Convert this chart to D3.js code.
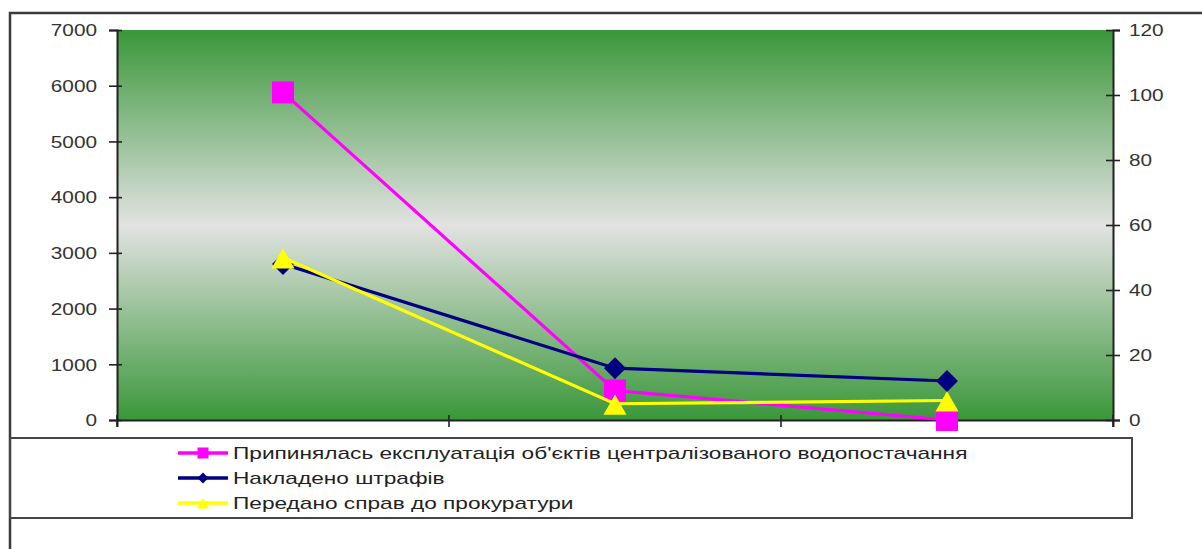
<!DOCTYPE html>
<html><head><meta charset="utf-8">
<script src="https://cdn.jsdelivr.net/npm/d3@7"></script>
<style>
body{margin:0;background:#fff}
text{font-family:"Liberation Sans",Arial,sans-serif}
</style>
</head><body>
<svg id="c" width="1202" height="549"></svg>
<script>
// ---- data ----
const categories = ["A", "B", "C"];
const seriesNames = [
  "Припинялась експлуатація об'єктів централізованого водопостачання",
  "Накладено штрафів",
  "Передано справ до прокуратури"
];
const stoppedValues = [5880, 530, 0];   // left axis
const finesValues = [2800, 930, 700];   // left axis
const referredValues = [50, 5, 6];      // right axis
const leftTicks = [0, 1000, 2000, 3000, 4000, 5000, 6000, 7000];
const rightTicks = [0, 20, 40, 60, 80, 100, 120];

// ---- layout ----
const svg = d3.select("#c");
const L = 117, R = 1113, T = 30, B = 420;
const SX = 1.3; // horizontal stretch of text

const x = d3.scaleBand().domain(categories).range([L, R]);
const yL = d3.scaleLinear().domain([0, 7000]).range([B, T]);
const yR = d3.scaleLinear().domain([0, 120]).range([B, T]);

// outer frame
svg.append("path").attr("d", `M10,549 L10,13 L1202,13`).attr("fill", "none")
  .attr("stroke", "#3a3a3a").attr("stroke-width", 2.5);

// gradient
const defs = svg.append("defs");
const g = defs.append("linearGradient").attr("id", "bg").attr("x1", 0).attr("y1", 0).attr("x2", 0).attr("y2", 1);
g.append("stop").attr("offset", "0%").attr("stop-color", "#3a973a");
g.append("stop").attr("offset", "50%").attr("stop-color", "#e2e2e2");
g.append("stop").attr("offset", "100%").attr("stop-color", "#3a973a");
svg.append("rect").attr("x", L).attr("y", T).attr("width", R - L).attr("height", B - T).attr("fill", "url(#bg)");

// axes
const axL = svg.append("g").attr("transform", `translate(${L},0)`)
  .call(d3.axisLeft(yL).tickValues(leftTicks).tickFormat(d3.format("d")).tickSize(8).tickPadding(0));
const axR = svg.append("g").attr("transform", `translate(${R},0)`)
  .call(d3.axisRight(yR).tickValues(rightTicks).tickFormat(d3.format("d")).tickSize(7).tickPadding(0));
const axX = svg.append("g").attr("transform", `translate(0,${B})`)
  .call(d3.axisBottom(x).tickSize(7).tickFormat(""));
[axL, axR, axX].forEach(a => {
  a.select(".domain").attr("stroke", "#222").attr("stroke-width", 2);
  a.selectAll(".tick line").attr("stroke", "#222").attr("stroke-width", 1.6);
});
axL.selectAll(".tick line").attr("x1", 5);
axR.selectAll(".tick line").attr("x1", -7);
// x axis ticks at band boundaries
axX.selectAll(".tick").remove();
axX.selectAll(".bt").data(categories.concat(["end"])).enter().append("line")
  .attr("x1", (d, i) => i < categories.length ? x(d) : x(categories[categories.length - 1]) + x.bandwidth())
  .attr("x2", (d, i) => i < categories.length ? x(d) : x(categories[categories.length - 1]) + x.bandwidth())
  .attr("y1", -5).attr("y2", 7).attr("stroke", "#222").attr("stroke-width", 1.6);

axL.selectAll(".tick text").attr("x", -20 / SX).attr("dy", "0.36em")
  .attr("transform", `scale(${SX},1)`).attr("font-size", 16).attr("fill", "#333")
  .attr("font-family", '"Liberation Sans",Arial,sans-serif');
axR.selectAll(".tick text").attr("x", 16 / SX).attr("dy", "0.36em")
  .attr("transform", `scale(${SX},1)`).attr("font-size", 16).attr("fill", "#333")
  .attr("font-family", '"Liberation Sans",Arial,sans-serif');

// series
const series = [
  { name: seriesNames[0], values: stoppedValues, y: yL, color: "#ff00ff", shape: "square" },
  { name: seriesNames[1], values: finesValues, y: yL, color: "#000080", shape: "diamond" },
  { name: seriesNames[2], values: referredValues, y: yR, color: "#ffff00", shape: "triangle" }
];
function markerPath(shape, s) {
  const h = s / 2;
  if (shape === "square") return `M${-h},${-h}H${h}V${h}H${-h}Z`;
  if (shape === "diamond") return `M0,${-h}L${h},0L0,${h}L${-h},0Z`;
  return `M0,${-h * 0.85}L${h * 1.05},${h}L${-h * 1.05},${h}Z`;
}
const cx = d => x(d) + x.bandwidth() / 2;
series.forEach(s => {
  const pts = categories.map((c, i) => [cx(c), s.y(s.values[i])]);
  svg.append("path").attr("d", d3.line()(pts)).attr("fill", "none")
    .attr("stroke", s.color).attr("stroke-width", 3.2);
  svg.selectAll(null).data(pts).enter().append("path")
    .attr("transform", p => `translate(${p[0]},${p[1]})`)
    .attr("d", markerPath(s.shape, 22))
    .attr("fill", s.color);
});

// legend
svg.append("rect").attr("x", 10).attr("y", 438).attr("width", 1122).attr("height", 80)
  .attr("fill", "none").attr("stroke", "#444").attr("stroke-width", 2);
const rows = [453, 478, 503];
const texts = [];
series.forEach((s, i) => {
  const gy = rows[i];
  svg.append("line").attr("x1", 178).attr("x2", 228).attr("y1", gy).attr("y2", gy)
    .attr("stroke", s.color).attr("stroke-width", 3.5);
  svg.append("path").attr("transform", `translate(203,${gy})`).attr("d", markerPath(s.shape, 11)).attr("fill", s.color);
  texts.push(svg.append("text").attr("y", gy).attr("dy", "0.36em")
    .attr("font-size", 16).attr("fill", "#222").text(s.name));
});
const w0 = texts[0].node().getComputedTextLength();
const LSX = 735 / w0;
texts.forEach(t => t.attr("x", 233 / LSX).attr("transform", `scale(${LSX},1)`));
</script>
</body></html>
